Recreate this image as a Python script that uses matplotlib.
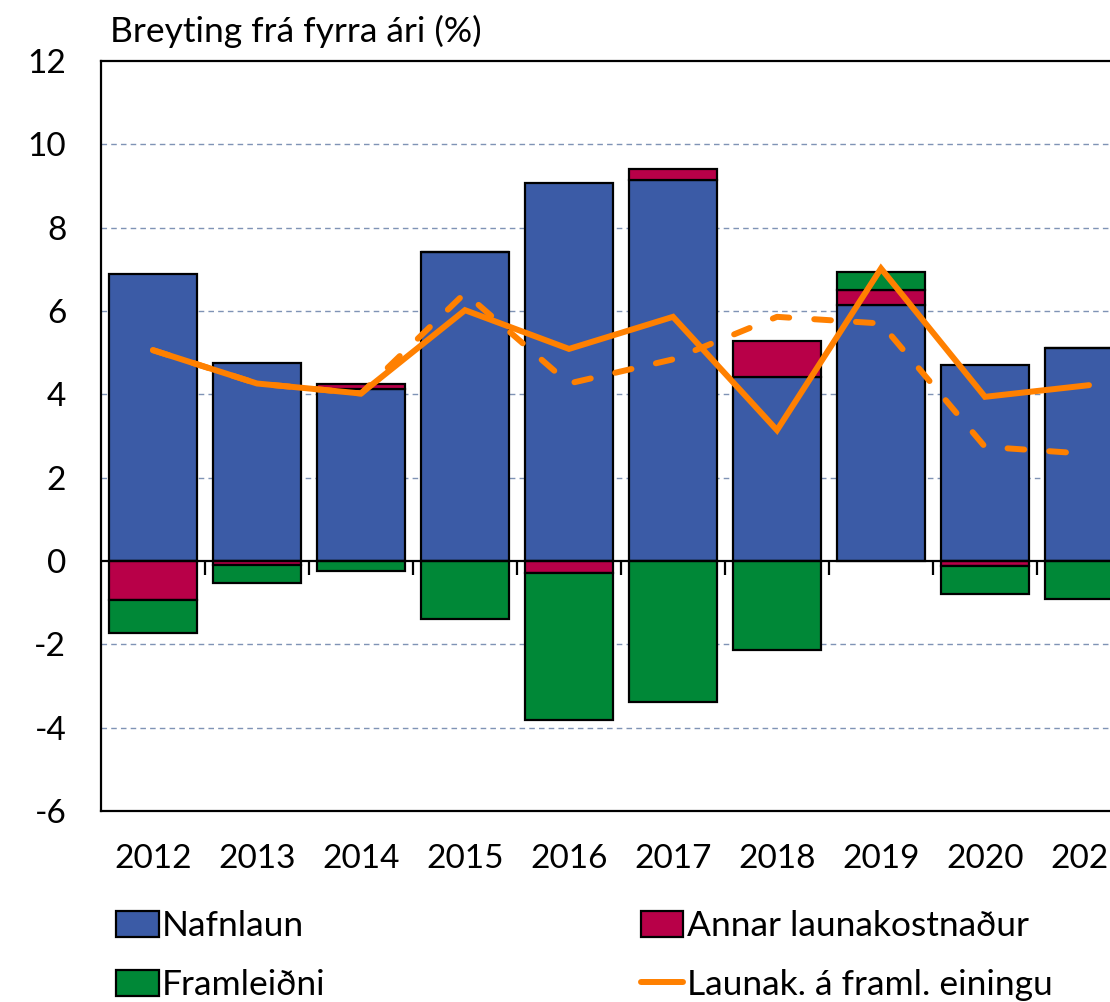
import matplotlib.pyplot as plt
import numpy as np

# data
years = ["2012", "2013", "2014", "2015", "2016", "2017", "2018", "2019", "2020", "2021"]
nafnlaun = [6.89, 4.76, 4.12, 7.42, 9.07, 9.14, 4.42, 6.14, 4.70, 5.12]
annar = [-0.94, -0.10, 0.12, 0.0, -0.28, 0.28, 0.87, 0.36, -0.12, 0.0]
framleidni = [-0.79, -0.42, -0.23, -1.38, -3.54, -3.38, -2.14, 0.44, -0.66, -0.91]
launak = [5.06, 4.26, 4.02, 6.02, 5.09, 5.86, 3.14, 7.02, 3.94, 4.22]
launak_dashed = [5.06, 4.26, 4.02, 6.43, 4.26, 4.84, 5.86, 5.70, 2.74, 2.57]

BLUE = "#3B5BA6"
RED = "#B80048"
GREEN = "#008837"
ORANGE = "#FF8000"
GRID = "#7F93B5"

plt.rcParams["font.family"] = ["Lato", "DejaVu Sans"]

fig = plt.figure(figsize=(11.1, 10.02), dpi=100)
ax = fig.add_axes([101 / 1110, 1 - 811 / 1002, 1040 / 1110, 750 / 1002])

x = np.arange(len(years))
naf = np.array(nafnlaun)
ann = np.array(annar)
fra = np.array(framleidni)

# stack positives and negatives separately
pos_base = np.zeros(len(x))
neg_base = np.zeros(len(x))
handles = {}
for vals, color, label in [(naf, BLUE, "Nafnlaun"),
                           (ann, RED, "Annar launakostnaður"),
                           (fra, GREEN, "Framleiðni")]:
    bottom = np.where(vals >= 0, pos_base, neg_base)
    h = ax.bar(x, vals, bottom=bottom, width=0.846, color=color,
               edgecolor="black", linewidth=1.6, label=label, zorder=2)
    handles[label] = h
    pos_base = pos_base + np.where(vals >= 0, vals, 0)
    neg_base = neg_base + np.where(vals < 0, vals, 0)

ax.plot(x, launak_dashed, color=ORANGE, linewidth=4.3, linestyle=(0, (2.8, 4.2)),
        solid_capstyle="round", dash_capstyle="round", zorder=3)
line, = ax.plot(x, launak, color=ORANGE, linewidth=4.3, solid_capstyle="round",
                solid_joinstyle="miter", label="Launak. á framl. einingu", zorder=4)

ax.axhline(0, color="black", linewidth=1.6, zorder=2.5)
# small tick marks between categories on the zero line
ax.vlines(x[:-1] + 0.5, -0.33, 0, color="black", linewidth=1.6, zorder=2.5)

ax.set_xlim(-0.5, len(years) - 0.5)
ax.set_ylim(-6, 12)
ax.set_yticks(range(-6, 13, 2))
ax.set_yticklabels([str(v) for v in range(-6, 13, 2)])
ax.set_xticks(x)
ax.set_xticklabels(years)
ax.tick_params(axis="y", length=0, pad=25, labelsize=24)
ax.tick_params(axis="x", length=0, pad=24, labelsize=24)

for yv in [-4, -2, 2, 4, 6, 8, 10]:
    ax.axhline(yv, color=GRID, linewidth=1.0, linestyle=(0, (4, 3)), zorder=1)

for side in ["left", "bottom", "top", "right"]:
    ax.spines[side].set_linewidth(1.6)

fig.text(110 / 1110, 1 - 31 / 1002, "Breyting frá fyrra ári (%)", fontsize=25.5,
         va="center", ha="left")

fig.legend([handles["Nafnlaun"], handles["Framleiðni"],
            handles["Annar launakostnaður"], line],
           ["Nafnlaun", "Framleiðni", "Annar launakostnaður",
            "Launak. á framl. einingu"],
           ncol=2, loc="upper left", bbox_to_anchor=(116 / 1110, 1 - 910 / 1002),
           frameon=False, fontsize=25.5, handlelength=1.2, handleheight=0.75,
           handletextpad=0.1, columnspacing=8.9, labelspacing=0.76,
           borderpad=0, borderaxespad=0)

fig.savefig("out.png", dpi=100)
